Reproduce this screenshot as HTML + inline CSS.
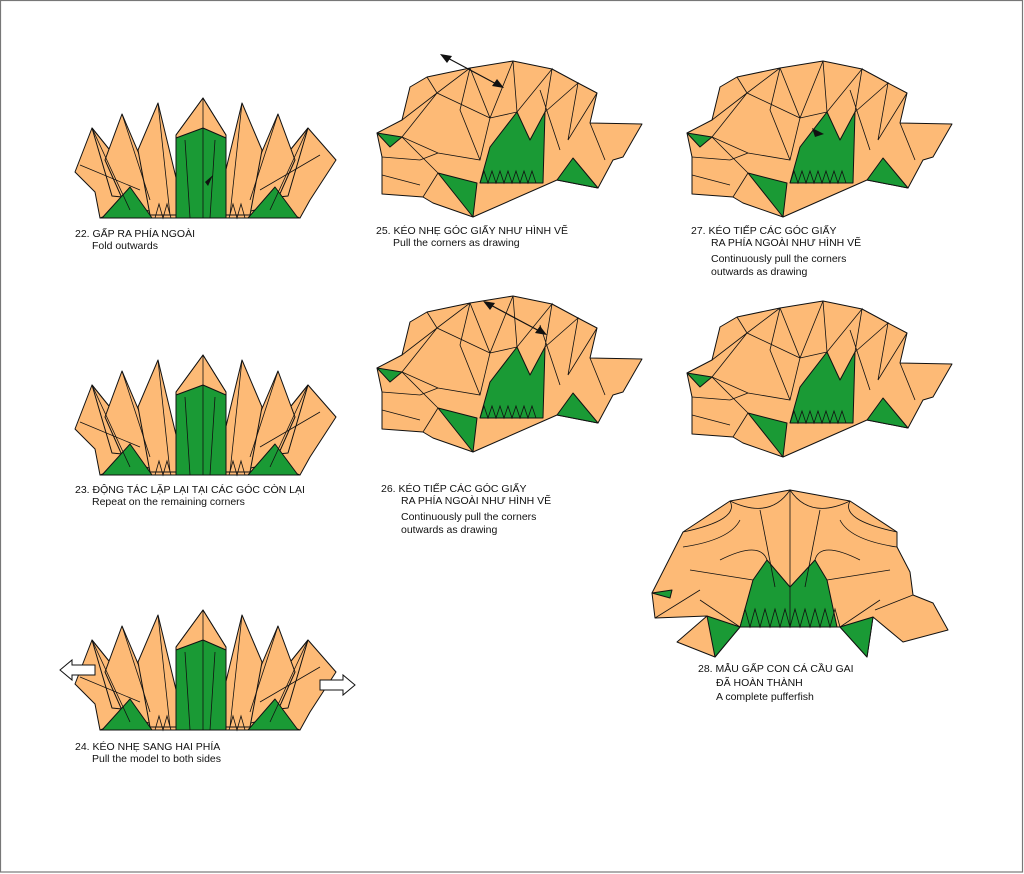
<!DOCTYPE html>
<html><head><meta charset="utf-8"><style>
html,body{margin:0;padding:0;background:#fff}
svg{display:block}
text{font-family:"Liberation Sans",sans-serif;font-size:10.5px;fill:#111}
.p{fill:#FDBA76;stroke:#111;stroke-width:1;stroke-linejoin:round}
.g{fill:#1A9A35;stroke:#111;stroke-width:1;stroke-linejoin:round}
.l{fill:none;stroke:#111;stroke-width:0.8}
</style></head><body>
<svg width="1024" height="874" viewBox="0 0 1024 874" xmlns="http://www.w3.org/2000/svg">
<rect x="0" y="0" width="1024" height="874" fill="#fff"/>
<rect x="0.5" y="0.5" width="1022" height="871.5" fill="none" stroke="#777" stroke-width="1.2"/>
<defs>
<g id="fan">
 <polygon class="p" points="100,188 300,188 300,218 100,218"/>
 <polygon class="p" points="75,172 92,128 150,200 100,218 95,192"/>
 <polygon class="p" points="336,160 308,128 250,200 300,218 310,200"/>
 <polygon class="p" points="92,128 150,200 112,196"/>
 <polygon class="p" points="308,128 250,200 288,196"/>
 <polygon class="p" points="122,114 165,215 125,205 105,160"/>
 <polygon class="p" points="278,114 235,215 275,205 295,160"/>
 <polygon class="p" points="158,103 185,215 150,215 138,150"/>
 <polygon class="p" points="242,103 215,215 250,215 262,150"/>
 <polygon class="p" points="203,98 226,135 226,218 176,218 176,135"/>
 <polygon class="g" points="176,138 203,128 226,138 226,218 176,218"/>
 <polygon class="g" points="102,218 130,187 152,218"/>
 <polygon class="g" points="248,218 275,187 298,218"/>
 <path class="l" d="M92,128L130,210M122,114L150,200M158,103L170,215M203,98L203,218M242,103L230,215M278,114L250,200M308,128L270,210M185,140L190,218M215,140L210,218M176,135L203,98L226,135M155,218l4,-14l4,14l4,-14l4,14M229,218l4,-14l4,14l4,-14l4,14M80,165L140,190M320,155L260,190"/>
</g>
<g id="blob">
 <polygon class="p" points="377,133 402,120 410,87 427,77 470,68 513,61 552,69 578,83 597,93 590,123 642,124 623,157 613,160 598,188 557,180 473,217 433,203 423,197 382,194 382,157"/>
 <polygon class="g" points="490,147 517,112 530,140 545,112 543,183 480,183"/>
 <polygon class="g" points="438,173 477,183 473,217"/>
 <polygon class="g" points="573,158 598,188 557,180"/>
 <polygon class="g" points="377,133 402,137 390,147"/>
 <path class="l" d="M402,120L437,93L490,118L480,160L438,153L402,137L437,93M427,77L437,93L470,68L490,118L513,61L517,112L552,69L545,112L578,83L568,140L597,93M490,118L517,112M402,137L438,173L423,197M382,157L420,160L438,153M382,175L420,185M540,90L560,150M590,123L605,160M470,68L460,110L480,160M480,183l4,-12l4,12l4,-12l4,12l4,-12l4,12l4,-12l4,12l4,-12l4,12l4,-12l4,12l4,-12l4,12"/>
</g>
</defs>

<use href="#fan"/>
<use href="#fan" transform="translate(0,257)"/>
<use href="#fan" transform="translate(0,512)"/>
<use href="#blob"/>
<use href="#blob" transform="translate(0,235)"/>
<use href="#blob" transform="translate(310,0)"/>
<use href="#blob" transform="translate(310,240)"/>

<!-- arrows -->
<path d="M442,55L502,87" stroke="#111" stroke-width="1.2"/>
<polygon points="440,54 452,56 447,63" fill="#111"/>
<polygon points="504,88 492,86 497,79" fill="#111"/>
<path d="M485,302L545,334" stroke="#111" stroke-width="1.2"/>
<polygon points="483,301 495,303 490,310" fill="#111"/>
<polygon points="547,335 535,333 540,326" fill="#111"/>
<polygon points="812,128 824,134 815,137" fill="#111"/>
<polygon points="205,182 213,175 208,186" fill="#111"/>
<polygon points="60,670 72,660 72,665 95,665 95,675 72,675 72,680" fill="#fff" stroke="#111"/>
<polygon points="355,685 343,675 343,680 320,680 320,690 343,690 343,695" fill="#fff" stroke="#111"/>

<!-- dome 28 -->
<polygon class="p" points="652,593 683,532 730,501 790,490 850,501 897,532 897,547 910,572 913,595 933,603 948,630 903,642 873,617 867,657 840,627 740,627 715,657 677,642 707,616 655,618"/>
<polygon class="g" points="740,627 753,580 767,560 790,587 815,560 827,580 837,627"/>
<polygon class="g" points="707,616 740,627 715,657"/>
<polygon class="g" points="840,627 873,617 867,657"/>
<polygon class="g" points="652,593 672,590 670,598"/>
<path class="l" d="M683,532Q740,520 730,501M897,532Q840,520 850,501M730,501Q770,520 790,490Q810,520 850,501M790,490L790,627M683,547Q730,540 740,520M897,547Q850,540 840,520M720,560Q760,540 767,560M860,560Q820,540 815,560M690,570L753,580M890,570L827,580M700,600L740,627M880,600L840,627M760,510L775,587M820,510L805,587M655,618L700,590M913,595L875,610M740,627l5,-18l5,18l5,-18l5,18l5,-18l5,18l5,-18l5,18l5,-18l5,18l5,-18l5,18l5,-18l5,18l5,-18l5,18l5,-18l5,18l5,-18l5,18"/>

<text x="75" y="237">22. GẤP RA PHÍA NGOÀI</text>
<text x="92" y="249">Fold outwards</text>
<text x="75" y="493">23. ĐỘNG TÁC LẶP LẠI TẠI CÁC GÓC CÒN LẠI</text>
<text x="92" y="505">Repeat on the remaining corners</text>
<text x="75" y="750">24. KÉO NHẸ SANG HAI PHÍA</text>
<text x="92" y="762">Pull the model to both sides</text>
<text x="376" y="234">25. KÉO NHẸ GÓC GIẤY NHƯ HÌNH VẼ</text>
<text x="393" y="246">Pull the corners as drawing</text>
<text x="381" y="492">26. KÉO TIẾP CÁC GÓC GIẤY</text>
<text x="401" y="504">RA PHÍA NGOÀI NHƯ HÌNH VẼ</text>
<text x="401" y="520">Continuously pull the corners</text>
<text x="401" y="533">outwards as drawing</text>
<text x="691" y="234">27. KÉO TIẾP CÁC GÓC GIẤY</text>
<text x="711" y="246">RA PHÍA NGOÀI NHƯ HÌNH VẼ</text>
<text x="711" y="262">Continuously pull the corners</text>
<text x="711" y="275">outwards as drawing</text>
<text x="698" y="672">28. MẪU GẤP CON CÁ CẦU GAI</text>
<text x="716" y="686">ĐÃ HOÀN THÀNH</text>
<text x="716" y="700">A complete pufferfish</text>
</svg>
</body></html>
